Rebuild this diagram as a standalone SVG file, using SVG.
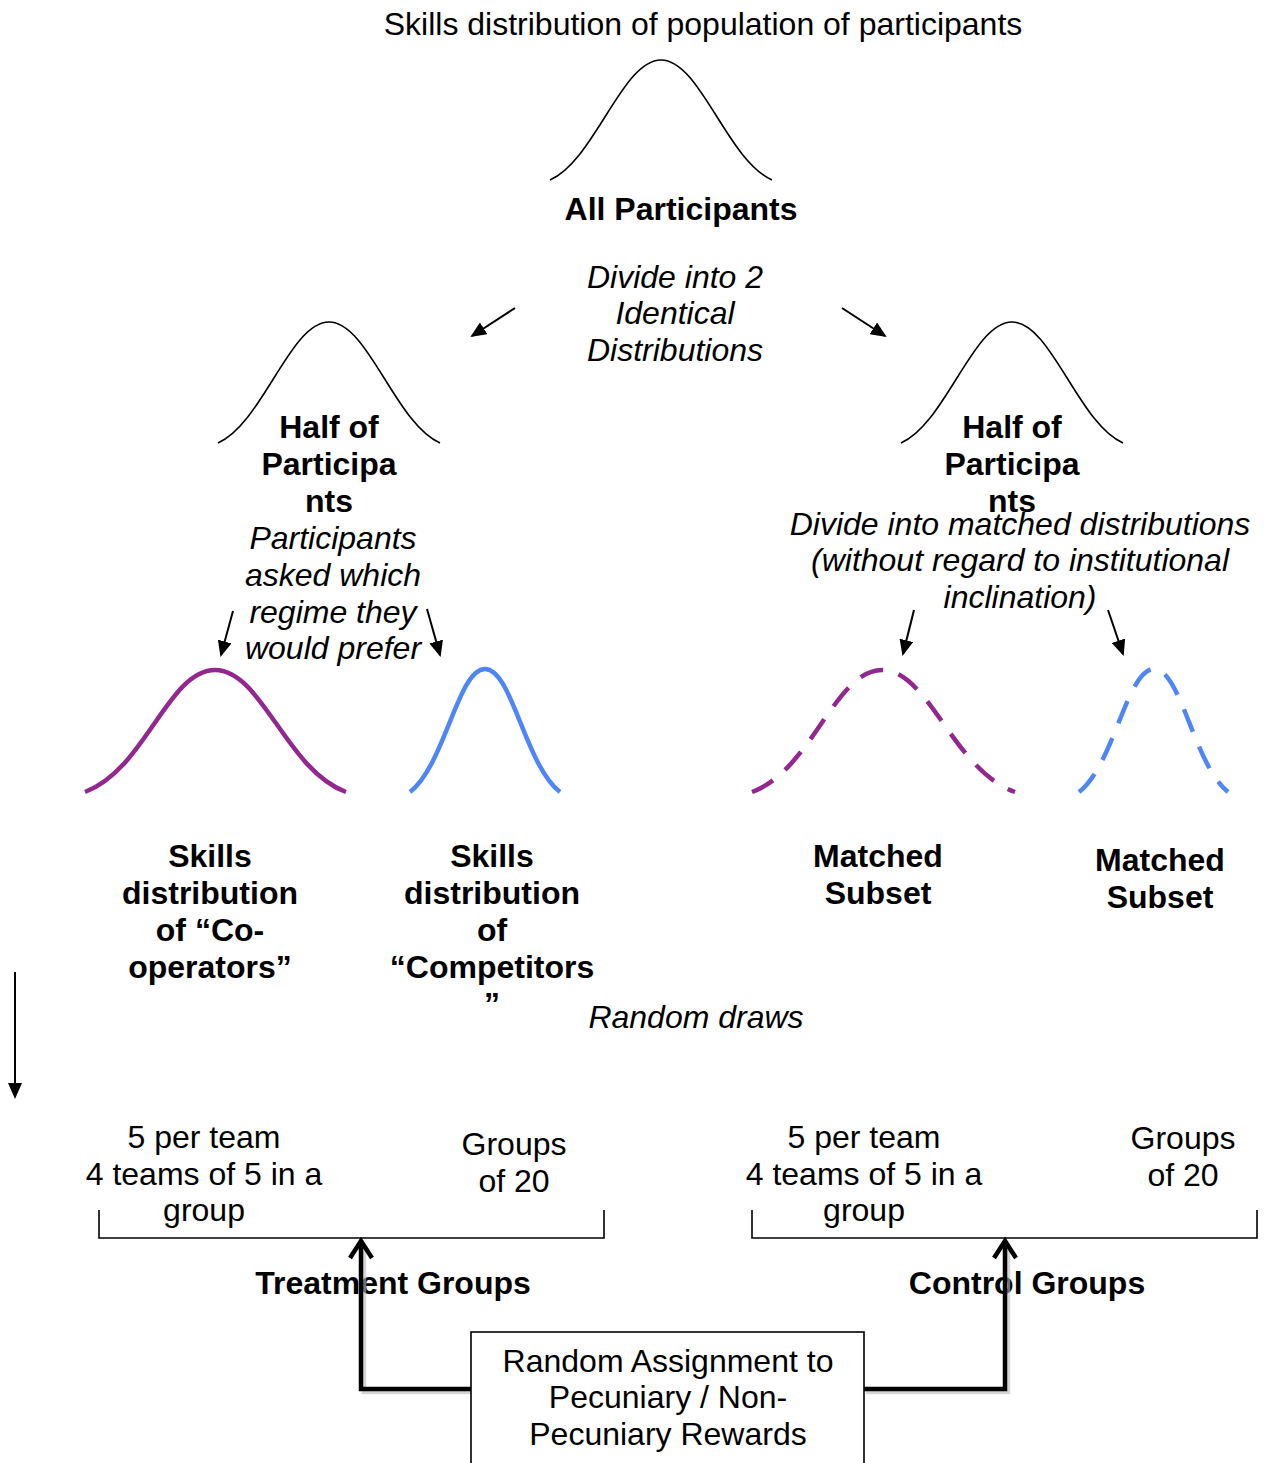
<svg xmlns="http://www.w3.org/2000/svg" width="1269" height="1463" viewBox="0 0 1269 1463">
<defs>
<style>
text{font-family:"Liberation Sans",Arial,sans-serif;font-size:32px;fill:#000;text-anchor:middle}
.b{font-weight:bold}
.i{font-style:italic}
.bell{fill:none;stroke:#000;stroke-width:1.6}
.pur{fill:none;stroke:#92278F;stroke-width:4.5}
.blu{fill:none;stroke:#4F86F7;stroke-width:4.5}
.dash{stroke-dasharray:24 16}
.thin{fill:none;stroke:#000;stroke-width:2;marker-end:url(#ah)}
.brk{fill:none;stroke:#000;stroke-width:1.6}
.thick{fill:none;stroke:#000;stroke-width:4.5;stroke-linejoin:miter}
.shadow{fill:none;stroke:#bbb;stroke-width:4.5;opacity:0.6}
</style>
<marker id="ah" markerWidth="16" markerHeight="14" refX="14" refY="7" orient="auto" markerUnits="userSpaceOnUse">
<path d="M0,0 L16,7 L0,14 Z" fill="#000"/>
</marker>
</defs>
<rect width="1269" height="1463" fill="#fff"/>

<g id="title"><text x="703" y="35">Skills distribution of population of participants</text></g>

<g id="all-participants">
<path class="bell" d="M550,180 C595,160 622,60 661,60 C700,60 727,160 772,180"/>
<text class="b" x="681" y="220">All Participants</text>
</g>

<g id="divide-label">
<text class="i" x="675" y="288">Divide into 2</text>
<text class="i" x="675" y="324">Identical</text>
<text class="i" x="675" y="361">Distributions</text>
</g>

<g id="half-left">
<path class="bell" d="M218,443 C263,423 290,322 329,322 C368,322 395,423 440,443"/>
<text class="b" x="329" y="438">Half of</text>
<text class="b" x="329" y="475">Participa</text>
<text class="b" x="329" y="512">nts</text>
</g>

<g id="asked-label">
<text class="i" x="333" y="549">Participants</text>
<text class="i" x="333" y="586">asked which</text>
<text class="i" x="333" y="623">regime they</text>
<text class="i" x="333" y="659">would prefer</text>
</g>

<g id="half-right">
<path class="bell" d="M901,443 C946,423 973,322 1012,322 C1051,322 1078,423 1123,443"/>
<text class="b" x="1012" y="438">Half of</text>
<text class="b" x="1012" y="475">Participa</text>
<text class="b" x="1012" y="512">nts</text>
</g>

<g id="matched-label">
<text class="i" x="1020" y="535">Divide into matched distributions</text>
<text class="i" x="1020" y="571">(without regard to institutional</text>
<text class="i" x="1020" y="608">inclination)</text>
</g>

<g id="cooperators">
<path class="pur" d="M85,792 C145,770 168,670 215,670 C262,670 286,770 346,792"/>
<text class="b" x="210" y="867">Skills</text>
<text class="b" x="210" y="904">distribution</text>
<text class="b" x="210" y="941">of “Co-</text>
<text class="b" x="210" y="978">operators”</text>
</g>

<g id="competitors">
<path class="blu" d="M410,792 C445,765 458,669 485,669 C512,669 525,765 560,792"/>
<text class="b" x="492" y="867">Skills</text>
<text class="b" x="492" y="904">distribution</text>
<text class="b" x="492" y="941">of</text>
<text class="b" x="492" y="978">“Competitors</text>
<text class="b" x="492" y="1015">”</text>
</g>

<g id="matched-1">
<path class="pur dash" d="M752,792 C812,770 835,670 882,670 C929,670 953,770 1015,792"/>
<text class="b" x="878" y="867">Matched</text>
<text class="b" x="878" y="904">Subset</text>
</g>

<g id="matched-2">
<path class="blu dash" d="M1079,792 C1114,765 1127,669 1154,669 C1181,669 1194,765 1228,792"/>
<text class="b" x="1160" y="871">Matched</text>
<text class="b" x="1160" y="908">Subset</text>
</g>

<g id="random-draws"><text class="i" x="696" y="1028">Random draws</text></g>

<g id="treatment">
<text x="204" y="1148">5 per team</text>
<text x="204" y="1185">4 teams of 5 in a</text>
<text x="204" y="1221">group</text>
<text x="514" y="1155">Groups</text>
<text x="514" y="1192">of 20</text>
<path class="brk" d="M99,1210 V1238 H604 V1210"/>
<text class="b" x="393" y="1294">Treatment Groups</text>
</g>

<g id="control">
<text x="864" y="1148">5 per team</text>
<text x="864" y="1185">4 teams of 5 in a</text>
<text x="864" y="1221">group</text>
<text x="1183" y="1149">Groups</text>
<text x="1183" y="1186">of 20</text>
<path class="brk" d="M752,1210 V1238 H1257 V1210"/>
<text class="b" x="1027" y="1294">Control Groups</text>
</g>

<g id="connectors">
<line class="thin" x1="515" y1="308" x2="472" y2="336"/>
<line class="thin" x1="842" y1="308" x2="885" y2="336"/>
<line class="thin" x1="233" y1="611" x2="221" y2="655"/>
<line class="thin" x1="427" y1="609" x2="440" y2="655"/>
<line class="thin" x1="914" y1="610" x2="903" y2="654"/>
<line class="thin" x1="1108" y1="610" x2="1123" y2="654"/>
<line class="thin" x1="15" y1="972" x2="15" y2="1097"/>
<path class="shadow" d="M473,1392 H364 V1245"/>
<path class="shadow" d="M866,1392 H1008 V1245"/>
<path class="thick" d="M471,1389 H361 V1241"/>
<path class="thick" d="M350,1258 L361,1241 L372,1258"/>
<path class="thick" d="M864,1389 H1005 V1241"/>
<path class="thick" d="M994,1258 L1005,1241 L1016,1258"/>
</g>

<g id="random-assignment">
<rect x="471" y="1332" width="393" height="140" fill="#fff" stroke="#000" stroke-width="1.6"/>
<text x="668" y="1372">Random Assignment to</text>
<text x="668" y="1408">Pecuniary / Non-</text>
<text x="668" y="1445">Pecuniary Rewards</text>
</g>
</svg>
